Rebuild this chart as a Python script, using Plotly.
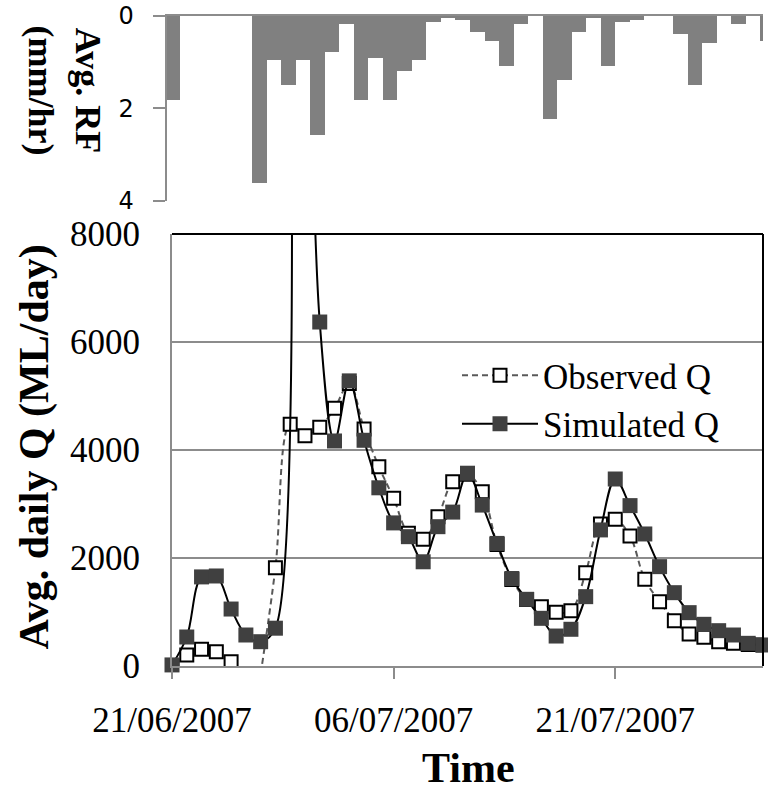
import pandas as pd
import plotly.graph_objects as go

# ---------------- data ----------------
start_date = "2007-06-21"
n_days = 41
dates = pd.date_range(start_date, periods=n_days, freq="D")
rain_dates = pd.date_range(start_date, periods=42, freq="D")

observed_q = [0, 204, 309, 265, 80, None, -150, 1820, 4475, 4265,
              4420, 4772, 5230, 4390, 3691, 3105, 2457, 2346, 2765, 3413,
              3550, 3228, 2250, 1600, 1230, 1098, 994, 1025, 1728, 2630,
              2716, 2407, 1605, 1191, 840, 593, 531, 451, 420, 400, 390]

simulated_q = [20, 537, 1650, 1667, 1055, 574, 450, 700, 20000, 15000,
               6370, 4167, 5280, 4180, 3300, 2650, 2395, 1930, 2580, 2850,
               3570, 2980, 2270, 1620, 1235, 883, 555, 680, 1284, 2520,
               3463, 2970, 2445, 1840, 1358, 988, 772, 654, 574, 420, 389]

rainfall = [1.82, 0, 0, 0, 0, 0, 3.61, 0.94, 1.48, 0.94,
            2.57, 0.78, 0.18, 1.82, 0.90, 1.82, 1.19, 0.94, 0.13, 0.05,
            0.09, 0.34, 0.54, 1.08, 0.18, 0, 2.23, 1.39, 0.34, 0.05,
            1.08, 0.13, 0.08, 0, 0, 0.38, 1.49, 0.58, 0, 0.18,
            0, 0.54]

x_tick_idx = [0, 15, 30]
q_ticks = [0, 2000, 4000, 6000, 8000]
rf_ticks = [0, 2, 4]

# ---------------- layout constants ----------------
W, H = 768, 795
SERIF = "Liberation Serif"
GRID = "#8c8c8c"

def px(xp):
    return xp / W

def py(yp):
    return (H - yp) / H

fig = go.Figure()

fig.add_trace(go.Bar(
    x=rain_dates, y=rainfall, width=86400000,
    marker=dict(color="#808080", line=dict(width=0)),
    xaxis="x2", yaxis="y2", showlegend=False,
))

fig.add_trace(go.Scatter(
    x=dates, y=observed_q, name="Observed Q", mode="lines+markers",
    line=dict(color="#595959", width=2, dash="6px,4px", shape="spline"),
    marker=dict(symbol="square", size=13, color="white",
                line=dict(color="black", width=2)),
    connectgaps=False, cliponaxis=True,
))

fig.add_trace(go.Scatter(
    x=dates, y=simulated_q, name="Simulated Q", mode="lines+markers",
    line=dict(color="black", width=2, shape="spline"),
    marker=dict(symbol="square", size=15, color="#404040",
                line=dict(color="#404040", width=0)),
    cliponaxis=False,
))

day = pd.Timedelta(days=1)
fig.update_layout(
    width=W, height=H,
    margin=dict(l=0, r=0, t=0, b=0, autoexpand=False),
    paper_bgcolor="white", plot_bgcolor="white",
    font=dict(family=SERIF, size=35, color="black"),
    xaxis=dict(
        domain=[px(172), px(763)],
        type="date",
        range=[dates[0], dates[-1]],
        tickvals=[dates[i] for i in x_tick_idx],
        tickformat="%d/%m/%Y",
        showgrid=False, zeroline=False,
        showline=True, linecolor=GRID, linewidth=2,
        ticks="outside", ticklen=11, tickwidth=2, tickcolor=GRID,
        tickfont=dict(family=SERIF, size=35, color="black"),
        ticklabelstandoff=11,
        automargin=False,
        anchor="y",
    ),
    yaxis=dict(
        domain=[py(666), py(234)],
        range=[0, 8000],
        tickvals=q_ticks,
        showgrid=True, gridcolor=GRID, gridwidth=2,
        zeroline=False,
        showline=True, linecolor=GRID, linewidth=2,
        ticks="",
        tickfont=dict(family=SERIF, size=35, color="black"),
        ticklabelstandoff=23,
        automargin=False,
        anchor="x",
    ),
    xaxis2=dict(
        domain=[px(166.7), px(763)],
        type="date",
        range=[rain_dates[0] - 0.37 * day, rain_dates[0] + 40.7 * day],
        side="top",
        showgrid=False, zeroline=False,
        showline=True, linecolor=GRID, linewidth=2,
        ticks="", showticklabels=False,
        automargin=False,
        anchor="y2",
    ),
    yaxis2=dict(
        domain=[py(201), py(15.7)],
        range=[4.0001, -0.0001],
        tickvals=rf_ticks,
        showgrid=False, zeroline=False,
        showline=True, linecolor=GRID, linewidth=2,
        ticks="outside", ticklen=12, tickwidth=2, tickcolor=GRID,
        tickfont=dict(family="DejaVu Sans", size=24, color="black"),
        ticklabelstandoff=14,
        ticklabeloverflow="allow",
        automargin=False,
        anchor="x2",
    ),
    legend=dict(
        x=px(457), y=py(346), xanchor="left", yanchor="top",
        bgcolor="rgba(0,0,0,0)",
        font=dict(family=SERIF, size=35, color="black"),
        itemwidth=76,
        tracegroupgap=0,
    ),
    bargap=0,
    showlegend=True,
)

# plot-area border (top and right in black)
fig.add_shape(type="line", xref="x domain", yref="y domain",
              x0=0, x1=1, y0=1, y1=1, line=dict(color="black", width=2), layer="above")
fig.add_shape(type="line", xref="x domain", yref="y domain",
              x0=1, x1=1, y0=0, y1=1, line=dict(color="black", width=2), layer="above")

fig.add_annotation(text="<b>Avg. daily Q (ML/day)</b>", xref="paper", yref="paper",
                   x=px(33.5), y=py(447), xanchor="center", yanchor="middle",
                   textangle=-90, showarrow=False,
                   font=dict(family=SERIF, size=42, color="black"))
fig.add_annotation(text="<b>Avg. RF<br>(mm/hr)</b>", xref="paper", yref="paper",
                   x=px(63.5), y=py(90), xanchor="center", yanchor="middle",
                   textangle=90, showarrow=False,
                   font=dict(family=SERIF, size=36, color="black"))
fig.add_annotation(text="<b>Time</b>", xref="paper", yref="paper",
                   x=px(468), y=py(768), xanchor="center", yanchor="middle",
                   showarrow=False,
                   font=dict(family=SERIF, size=42, color="black"))

fig.write_html("out.html")
